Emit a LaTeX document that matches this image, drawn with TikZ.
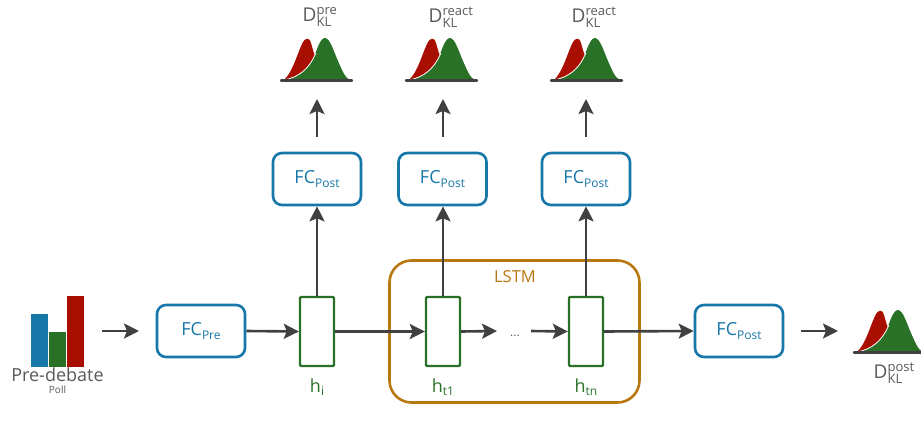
\documentclass[tikz,border=0pt]{standalone}
\usepackage{fontspec}
\setmainfont{Open Sans}
\usetikzlibrary{arrows.meta}
\definecolor{cblue}{HTML}{1777A9}
\definecolor{cgreen}{HTML}{2A7128}
\definecolor{cred}{HTML}{A90F00}
\definecolor{corange}{HTML}{B8770F}
\definecolor{cdark}{HTML}{404040}
\definecolor{ctext}{HTML}{595959}
\newcommand{\fcl}[1]{\fontsize{18}{18}\selectfont FC\raisebox{-3.5pt}{\fontsize{12}{12}\selectfont #1}}
\newcommand{\hl}[1]{\fontsize{18}{18}\selectfont h\raisebox{-3.5pt}{\fontsize{12}{12}\selectfont #1}}
\newcommand{\dkl}[1]{\fontsize{19}{19}\selectfont D\raisebox{7pt}{\rlap{\fontsize{13}{13}\selectfont #1}}\raisebox{-5pt}{\fontsize{13}{13}\selectfont KL}}
\tikzset{
  x=1pt,y=-1pt,
  fcbox/.style={draw=cblue,line width=2.6pt,rounded corners=9pt,minimum width=88pt,minimum height=52pt,inner sep=0pt,text=cblue,fill=white},
  hbox/.style={draw=cgreen,line width=2.4pt,rounded corners=1pt,minimum width=34pt,minimum height=69pt,inner sep=0pt,fill=white},
  hlabel/.style={text=cgreen,inner sep=0pt},
  dlabel/.style={text=ctext,inner sep=0pt},
  flow/.style={draw=cdark,line width=2.6pt,-{Stealth[length=15pt,width=15pt,inset=3pt]}},
  plain/.style={draw=cdark,line width=2.6pt},
  pics/dist/.style={code={
    \fill[cred] (4,42) .. controls (13,34) and (18,13) .. (23,4) .. controls (25,0) and (30,-1) .. (31,5) .. controls (33,12) and (34,16) .. (36,20) -- (36,42) -- cycle;
    \fill[cgreen] (4,42) .. controls (20,39) and (28,30) .. (33,21) .. controls (37,12) and (40,0) .. (45,0) .. controls (50,0) and (54,14) .. (58,23) .. controls (62,32) and (65,40) .. (70,42) -- cycle;
    \draw[white,line width=0.8pt] (4,42) .. controls (20,39) and (28,30) .. (33,21) -- (36,15);
    \draw[cdark,line width=2.4pt,line cap=round] (1,42.5) -- (72,42.5);
  }}
}
\begin{document}
\begin{tikzpicture}
\useasboundingbox (0,0) rectangle (921,423);
% LSTM group
\node[draw=corange,line width=2.6pt,rounded corners=22pt,minimum width=250pt,minimum height=142pt,inner sep=0pt] (lstm) at (514.5,331.5) {};
\node[text=corange,inner sep=0pt] (lstmlabel) at (515,277) {\fontsize{16.5}{16.5}\selectfont LSTM};
% Poll
\fill[cblue] (31,314) rectangle (48,367);
\fill[cgreen] (49,332) rectangle (66,367);
\fill[cred] (67,296) rectangle (84,367);
\node[text=ctext,inner sep=0pt,align=center] (poll) at (57.5,381) {\fontsize{18}{24}\selectfont Pre-debate\\Poll};
\coordinate (pollout) at (102,331);
\coordinate (prein) at (139,331);
% boxes
\node[fcbox] (pre) at (201,331) {\fcl{Pre}};
\node[fcbox] (post0) at (317,179) {\fcl{Post}};
\node[fcbox] (post1) at (442.5,179) {\fcl{Post}};
\node[fcbox] (post2) at (586,179) {\fcl{Post}};
\node[fcbox] (post3) at (739,331) {\fcl{Post}};
\node[hbox] (hi) at (317,331.5) {};
\node[hbox] (ht1) at (443,331.5) {};
\node[hbox] (htn) at (586,331.5) {};
\node[hlabel] (lhi) at (317,387) {\hl{i}};
\node[hlabel] (lht1) at (443,387) {\hl{t1}};
\node[hlabel] (lhtn) at (586,387) {\hl{tn}};
\node[text=ctext,inner sep=0pt] (dots) at (515,336) {\fontsize{12}{12}\selectfont ...};
% distributions
\pic at (280,38) {dist};
\pic at (405,38) {dist};
\pic at (550,38) {dist};
\pic at (853,310) {dist};
\node[dlabel] (d0) at (317,17) {\dkl{pre}};
\node[dlabel] (d1) at (443,17) {\dkl{react}};
\node[dlabel] (d2) at (586,17) {\dkl{react}};
\node[dlabel] (d3) at (888,373) {\dkl{post}};
% connectors
\draw[flow] (pollout) -- (prein);
\draw[flow] (pre.east) -- (hi.west);
\draw[flow] (hi.east) -- (ht1.west);
\coordinate (g1) at (497,331);
\coordinate (g2) at (531,331);
\draw[flow] (ht1.east) -- (g1);
\draw[flow] (g2) -- (htn.west);
\draw[flow] (htn.east) -- (post3.west);
\coordinate (out1) at (801,331);
\coordinate (out2) at (838,331);
\draw[flow] (out1) -- (out2);
\draw[flow] (hi.north) -- (post0.south);
\draw[flow] (ht1.north) -- (post1.south -| ht1.north);
\draw[flow] (htn.north) -- (post2.south);
\foreach \a/\x in {a/317,b/443,c/586}{
  \coordinate (\a1) at (\x,137);
  \coordinate (\a2) at (\x,99);
  \draw[flow] (\a1) -- (\a2);
}
\end{tikzpicture}
\end{document}
